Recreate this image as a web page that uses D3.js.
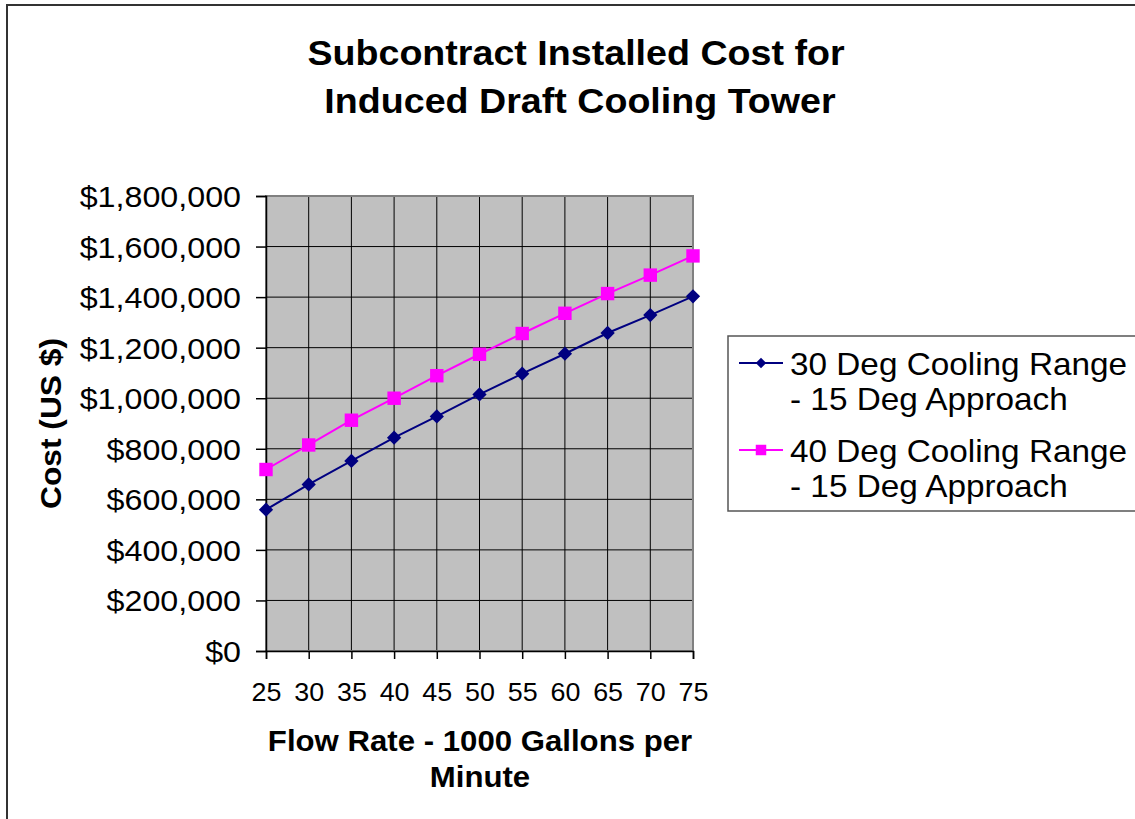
<!DOCTYPE html>
<html>
<head>
<meta charset="utf-8">
<script src="https://cdn.jsdelivr.net/npm/d3@7"></script>
<style>
  body { margin: 0; background: #fff; }
  text { font-family: "Liberation Sans", Arial, sans-serif; fill: #000; }
</style>
</head>
<body>
<svg id="chart" width="1135" height="819"></svg>
<script>
"use strict";

// data
const flowRates = [25, 30, 35, 40, 45, 50, 55, 60, 65, 70, 75];
const cost30 = [559000, 659000, 752000, 844000, 928000, 1015000, 1097000, 1176000, 1258000, 1329000, 1403000];
const cost40 = [718000, 815000, 913000, 1000000, 1089000, 1174000, 1256000, 1336000, 1414000, 1487000, 1563000];
const yTicks = [0, 200000, 400000, 600000, 800000, 1000000, 1200000, 1400000, 1600000, 1800000];
const seriesNames = [
  ["30 Deg Cooling Range", "- 15 Deg Approach"],
  ["40 Deg Cooling Range", "- 15 Deg Approach"]
];

// the original text is a bit wider than Arial
const SX = 1.075;

const svg = d3.select("#chart");

// outer chart border
svg.append("rect")
  .attr("x", 7).attr("y", 5)
  .attr("width", 1140).attr("height", 830)
  .attr("fill", "#fff")
  .attr("stroke", "#333").attr("stroke-width", 2);

const plot = { left: 266, right: 693, top: 196, bottom: 651 };

const xScale = d3.scaleLinear()
  .domain([25, 75])
  .range([plot.left, plot.right]);

const yScale = d3.scaleLinear()
  .domain([0, 1800000])
  .range([plot.bottom, plot.top]);

// plot background
svg.append("rect")
  .attr("x", plot.left).attr("y", plot.top)
  .attr("width", plot.right - plot.left)
  .attr("height", plot.bottom - plot.top)
  .attr("fill", "#c0c0c0");

// grid
svg.append("g")
  .selectAll("line")
  .data(yTicks)
  .join("line")
  .attr("x1", plot.left).attr("x2", plot.right)
  .attr("y1", d => yScale(d)).attr("y2", d => yScale(d))
  .attr("stroke", "#000").attr("stroke-width", 1);

svg.append("g")
  .selectAll("line")
  .data(flowRates)
  .join("line")
  .attr("x1", d => xScale(d)).attr("x2", d => xScale(d))
  .attr("y1", plot.top).attr("y2", plot.bottom)
  .attr("stroke", "#000").attr("stroke-width", 1);

svg.append("rect")
  .attr("x", plot.left).attr("y", plot.top)
  .attr("width", plot.right - plot.left)
  .attr("height", plot.bottom - plot.top)
  .attr("fill", "none")
  .attr("stroke", "#808080").attr("stroke-width", 2);

// axes
const fmt = d => "$" + d3.format(",")(d);

const yAxis = svg.append("g")
  .attr("transform", `translate(${plot.left},0)`)
  .call(d3.axisLeft(yScale).tickValues(yTicks).tickFormat(fmt).tickSize(10).tickPadding(0));
yAxis.selectAll("text")
  .style("font-size", "30px")
  .attr("x", 0)
  .attr("dy", "0.35em")
  .attr("transform", `translate(-25,0) scale(${SX},1)`);

const xAxis = svg.append("g")
  .attr("transform", `translate(0,${plot.bottom})`)
  .call(d3.axisBottom(xScale).tickValues(flowRates).tickSize(8).tickPadding(24));
xAxis.selectAll("text")
  .style("font-size", "25px")
  .attr("transform", `scale(${SX},1)`);

svg.selectAll(".domain, .tick line").attr("stroke", "#000").attr("stroke-width", 1.5);

// lines and markers
const line = d3.line()
  .x((d, i) => xScale(flowRates[i]))
  .y(d => yScale(d));

svg.append("path")
  .datum(cost30)
  .attr("d", line)
  .attr("fill", "none")
  .attr("stroke", "#000080").attr("stroke-width", 2);

svg.append("path")
  .datum(cost40)
  .attr("d", line)
  .attr("fill", "none")
  .attr("stroke", "#ff00ff").attr("stroke-width", 2);

const diamond = d3.symbol().type(d3.symbolDiamond2).size(130);
const square = d3.symbol().type(d3.symbolSquare).size(180);

svg.append("g")
  .selectAll("path")
  .data(cost30)
  .join("path")
  .attr("d", diamond)
  .attr("transform", (d, i) => `translate(${xScale(flowRates[i])},${yScale(d)})`)
  .attr("fill", "#000080");

svg.append("g")
  .selectAll("path")
  .data(cost40)
  .join("path")
  .attr("d", square)
  .attr("transform", (d, i) => `translate(${xScale(flowRates[i])},${yScale(d)})`)
  .attr("fill", "#ff00ff");

// stretched text helper
function label(parent, x, y, size, bold, anchor, str) {
  return parent.append("text")
    .attr("transform", `translate(${x},${y}) scale(${SX},1)`)
    .attr("text-anchor", anchor)
    .style("font-size", size + "px")
    .style("font-weight", bold ? "bold" : "normal")
    .text(str);
}

// titles
label(svg, 576, 65, 35, true, "middle", "Subcontract Installed Cost for");
label(svg, 580, 113, 35, true, "middle", "Induced Draft Cooling Tower");

label(svg, 480, 751, 29, true, "middle", "Flow Rate - 1000 Gallons per");
label(svg, 480, 787, 29, true, "middle", "Minute");

svg.append("text")
  .attr("transform", `translate(61,${(plot.top + plot.bottom) / 2}) rotate(-90) scale(1.095,1)`)
  .attr("text-anchor", "middle")
  .style("font-size", "29px")
  .style("font-weight", "bold")
  .text("Cost (US $)");

// legend
const legend = svg.append("g");
legend.append("rect")
  .attr("x", 728).attr("y", 336)
  .attr("width", 420).attr("height", 175)
  .attr("fill", "#fff")
  .attr("stroke", "#555").attr("stroke-width", 1.5);

const legendColors = ["#000080", "#ff00ff"];
const legendSymbols = [d3.symbol().type(d3.symbolDiamond2).size(70), d3.symbol().type(d3.symbolSquare).size(110)];

seriesNames.forEach((names, i) => {
  const y0 = 363 + i * 87;
  legend.append("line")
    .attr("x1", 739).attr("x2", 783)
    .attr("y1", y0).attr("y2", y0)
    .attr("stroke", legendColors[i]).attr("stroke-width", 2);
  legend.append("path")
    .attr("d", legendSymbols[i])
    .attr("transform", `translate(761,${y0})`)
    .attr("fill", legendColors[i]);
  label(legend, 790, y0 + 12, 31, false, "start", names[0]);
  label(legend, 790, y0 + 47, 31, false, "start", names[1]);
});
</script>
</body>
</html>
